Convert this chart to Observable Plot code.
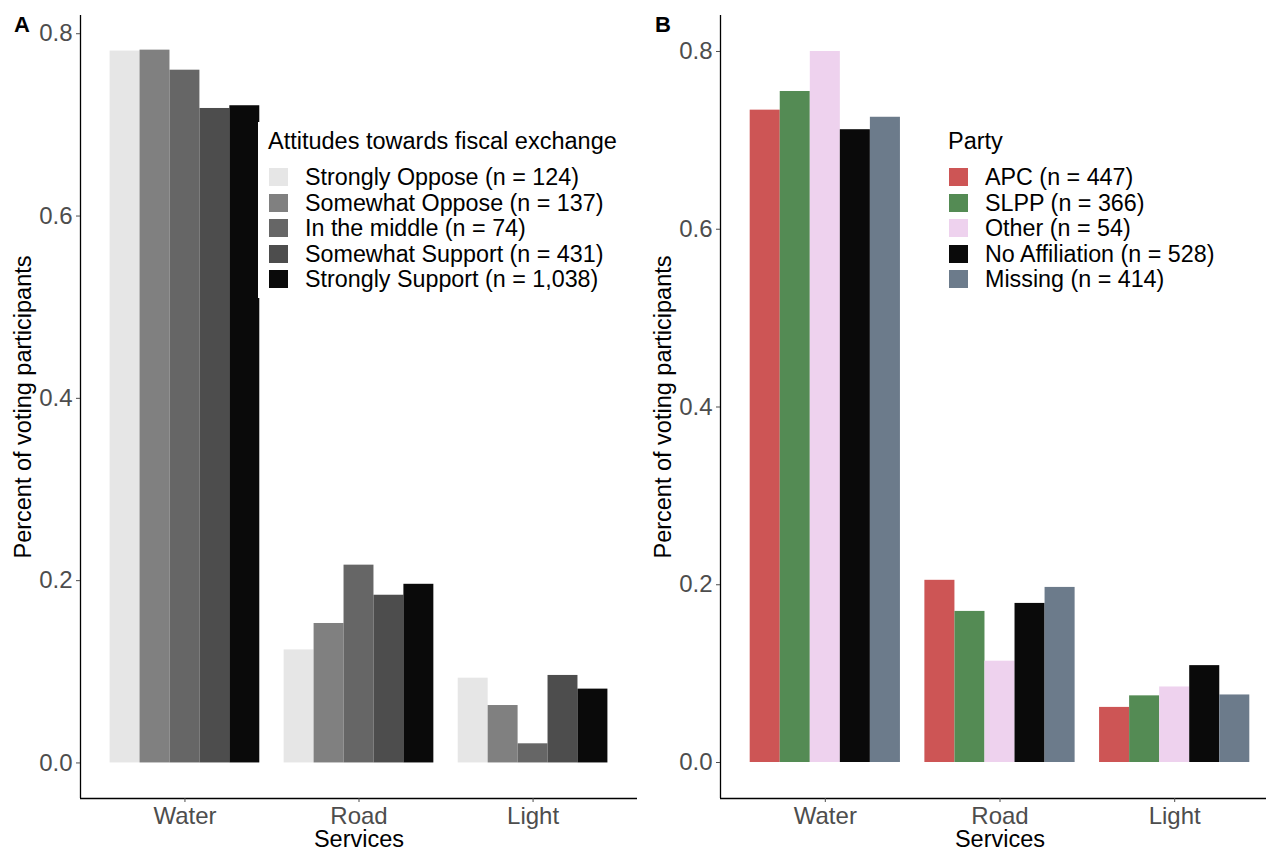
<!DOCTYPE html>
<html>
<head>
<meta charset="utf-8">
<script src="https://cdn.jsdelivr.net/npm/d3@7"></script>
<script src="https://cdn.jsdelivr.net/npm/@observablehq/plot@0.6"></script>
<style>
  html, body { margin: 0; padding: 0; background: #fff; overflow: hidden; }
  #root { position: relative; width: 1266px; height: 851px; overflow: hidden; font-family: "Liberation Sans", Arial, sans-serif; }
  .panel { position: absolute; top: 0; }
  .panel svg { max-width: none !important; display: block; }
  .tag { position: absolute; font-weight: bold; font-size: 22px; line-height: 22px; color: #000; }
  .legend { position: absolute; background: #fff; }
  .legend .ttl { position: absolute; font-size: 23.5px; line-height: 24px; white-space: nowrap; color: #000; }
  .legend .key { position: absolute; width: 19px; height: 18px; }
  .legend .lab { position: absolute; font-size: 23.3px; line-height: 24px; white-space: nowrap; color: #000; }
</style>
</head>
<body>
<div id="root"></div>
<script>
// ---------- data ----------
const services = ["Water", "Road", "Light"];
const yTicks = [0, 0.2, 0.4, 0.6, 0.8];

// Panel A: attitudes towards fiscal exchange
const attitudes = ["Strongly Oppose", "Somewhat Oppose", "In the middle", "Somewhat Support", "Strongly Support"];
const attitudeN = ["124", "137", "74", "431", "1,038"];
const attitudeColors = ["#E6E6E6", "#808080", "#666666", "#4D4D4D", "#0A0A0A"];
const attStronglyOppose   = [0.781, 0.124, 0.093];
const attSomewhatOppose   = [0.782, 0.153, 0.063];
const attInTheMiddle      = [0.760, 0.217, 0.021];
const attSomewhatSupport  = [0.718, 0.184, 0.096];
const attStronglySupport  = [0.721, 0.196, 0.081];

// Panel B: party
const parties = ["APC", "SLPP", "Other", "No Affiliation", "Missing"];
const partyN = ["447", "366", "54", "528", "414"];
const partyColors = ["#CD5555", "#548B54", "#EED2EE", "#0A0A0A", "#6C7B8B"];
const partyAPC     = [0.734, 0.205, 0.062];
const partySLPP    = [0.755, 0.170, 0.075];
const partyOther   = [0.800, 0.114, 0.085];
const partyNone    = [0.712, 0.179, 0.109];
const partyMissing = [0.726, 0.197, 0.076];

// ---------- helpers ----------
const dodgeWidth = 0.86;

function buildRows(groups, series) {
  const rows = [];
  services.forEach((s, i) => {
    groups.forEach((g, k) => {
      const w = dodgeWidth / groups.length;
      const x1 = i - dodgeWidth / 2 + k * w;
      rows.push({service: s, group: g, x1, x2: x1 + w, value: series[k][i]});
    });
  });
  return rows;
}

function panel(rows, groups, colors, yDomain, opts) {
  const font = "'Liberation Sans', Arial, sans-serif";
  const xDomain = [-0.6, services.length - 1 + 0.6];
  return Plot.plot({
    width: opts.width,
    height: 851,
    marginLeft: 80,
    marginRight: opts.marginRight,
    marginTop: 15,
    marginBottom: 53,
    style: {fontFamily: font, background: "transparent", overflow: "visible"},
    x: {domain: xDomain},
    y: {domain: yDomain},
    color: {domain: groups, range: colors},
    marks: [
      Plot.rect(rows, {x1: "x1", x2: "x2", y1: () => 0, y2: "value", fill: "group"}),
      Plot.ruleX([xDomain[0]], {stroke: "#000", strokeWidth: 1.3}),
      Plot.ruleY([yDomain[0]], {stroke: "#000", strokeWidth: 1.3}),
      Plot.axisY({ticks: yTicks, tickFormat: d3.format(".1f"), tickSize: 4, tickPadding: 4,
                  fontSize: 24, color: "#4D4D4D", label: null}),
      Plot.axisX({ticks: services.map((_, i) => i), tickFormat: i => services[i], tickSize: 4,
                  tickPadding: 4, fontSize: 24, color: "#4D4D4D", label: null}),
      Plot.text(["Percent of voting participants"], {frameAnchor: "left", dx: -57, rotate: -90,
                  textAnchor: "middle", lineAnchor: "middle", fontSize: 23.5, fill: "#000"}),
      Plot.text(["Services"], {frameAnchor: "bottom", dy: 41, textAnchor: "middle",
                  lineAnchor: "middle", fontSize: 23.5, fill: "#000"})
    ]
  });
}

function legend(title, groups, ns, colors, pos) {
  const L = document.createElement("div");
  L.className = "legend";
  Object.assign(L.style, {left: pos.left + "px", top: pos.top + "px", width: pos.width + "px", height: "176px"});
  const t = document.createElement("div");
  t.className = "ttl";
  t.textContent = title;
  Object.assign(t.style, {left: pos.pad + "px", top: "7px"});
  L.appendChild(t);
  groups.forEach((g, k) => {
    const top = 46 + k * 25.6;
    const key = document.createElement("div");
    key.className = "key";
    Object.assign(key.style, {left: (pos.pad + 1) + "px", top: top + "px", background: colors[k]});
    L.appendChild(key);
    const lab = document.createElement("div");
    lab.className = "lab";
    lab.textContent = `${g} (n = ${ns[k]})`;
    Object.assign(lab.style, {left: (pos.pad + 37) + "px", top: (top - 3) + "px"});
    L.appendChild(lab);
  });
  return L;
}

// ---------- render ----------
const root = document.getElementById("root");

const rowsA = buildRows(attitudes, [attStronglyOppose, attSomewhatOppose, attInTheMiddle, attSomewhatSupport, attStronglySupport]);
const rowsB = buildRows(parties, [partyAPC, partySLPP, partyOther, partyNone, partyMissing]);

const pA = document.createElement("div");
pA.className = "panel"; pA.style.left = "0px"; pA.style.width = "640px";
pA.appendChild(panel(rowsA, attitudes, attitudeColors, [-0.039, 0.82], {width: 640, marginRight: 3}));
root.appendChild(pA);

const pB = document.createElement("div");
pB.className = "panel"; pB.style.left = "640px"; pB.style.width = "639px";
pB.appendChild(panel(rowsB, parties, partyColors, [-0.0405, 0.8405], {width: 639, marginRight: 0}));
root.appendChild(pB);

root.appendChild(legend("Attitudes towards fiscal exchange", attitudes, attitudeN, attitudeColors,
  {left: 258, top: 122, width: 375, pad: 10}));
root.appendChild(legend("Party", parties, partyN, partyColors,
  {left: 938, top: 122, width: 320, pad: 10}));

const tagA = document.createElement("div");
tagA.className = "tag"; tagA.textContent = "A";
Object.assign(tagA.style, {left: "14px", top: "14px"});
root.appendChild(tagA);
const tagB = document.createElement("div");
tagB.className = "tag"; tagB.textContent = "B";
Object.assign(tagB.style, {left: "655px", top: "14px"});
root.appendChild(tagB);
</script>
</body>
</html>
